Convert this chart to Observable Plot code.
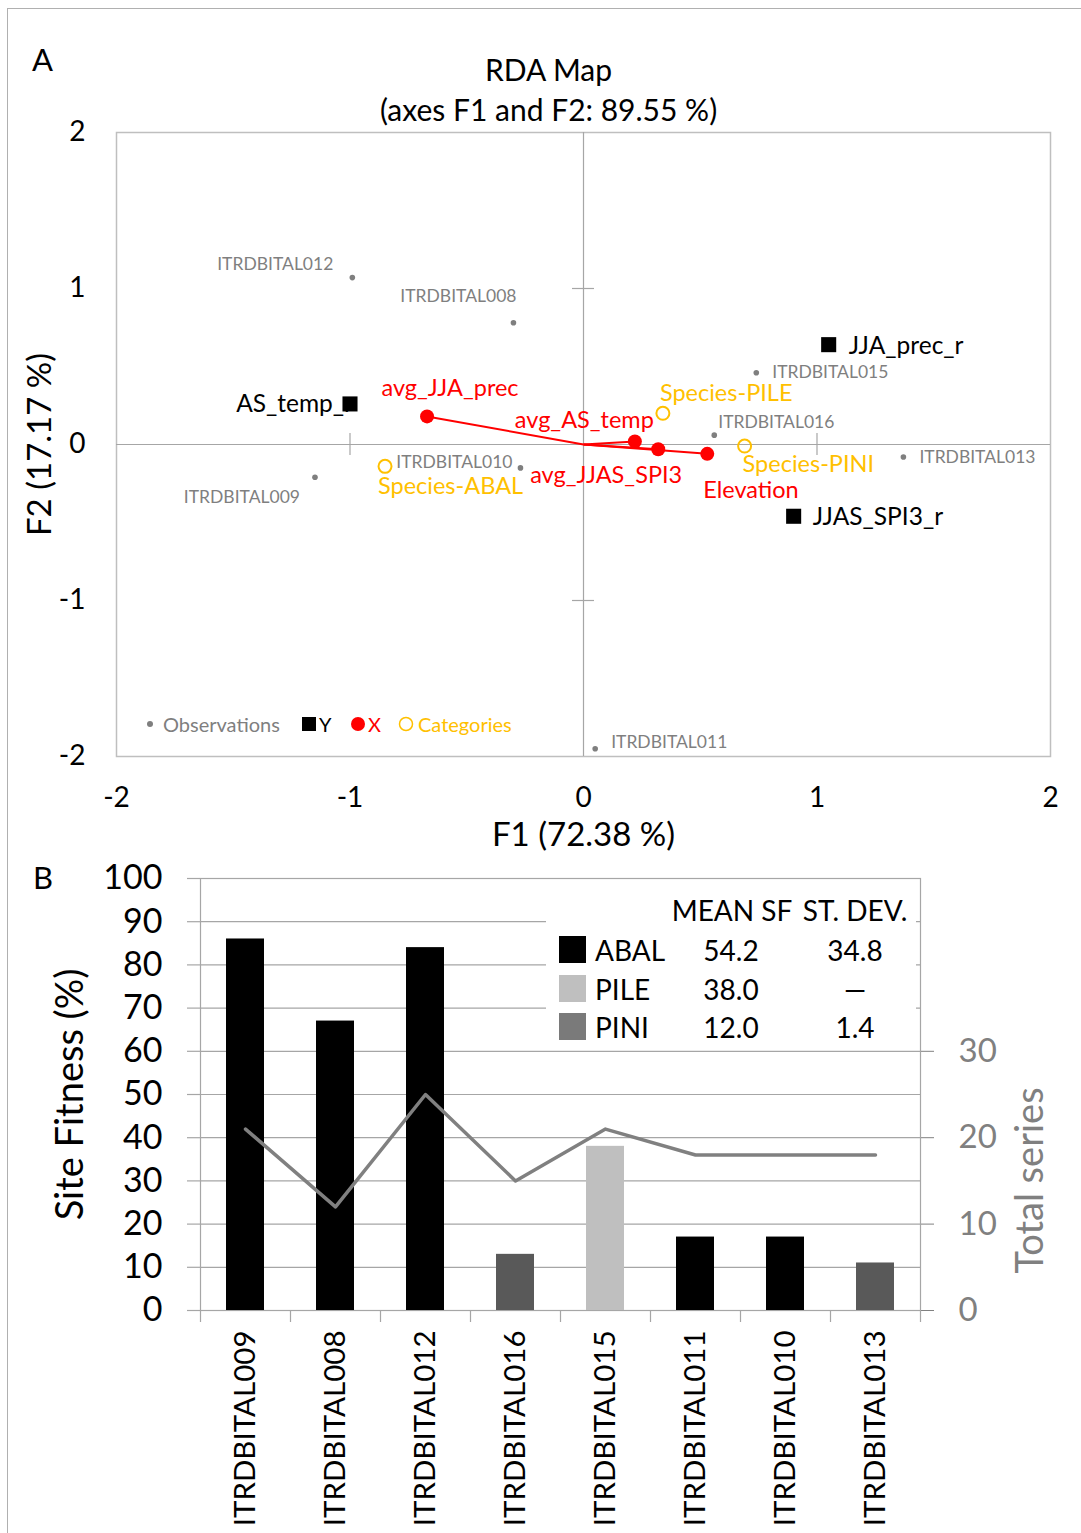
<!DOCTYPE html>
<html><head><meta charset="utf-8">
<script src="https://cdn.jsdelivr.net/npm/d3@7"></script>
<script src="https://cdn.jsdelivr.net/npm/@observablehq/plot@0.6"></script>
<style>
body{margin:0;background:#fff;font-family:Lato,sans-serif;}
#wrap{position:relative;width:1081px;height:1533px;overflow:hidden;background:#fff;}
#wrap svg{position:absolute;left:0;}
.abs{position:absolute;white-space:nowrap;line-height:1;}
</style></head><body><div id="wrap"></div>
<script>
// ---------- Panel A data (RDA map) ----------
const obsNames = ["ITRDBITAL012","ITRDBITAL008","ITRDBITAL015","ITRDBITAL016","ITRDBITAL013","ITRDBITAL010","ITRDBITAL009","ITRDBITAL011"];
const obsF1 = [-0.99,-0.30,0.74,0.56,1.37,-0.27,-1.15,0.05];
const obsF2 = [1.07,0.78,0.46,0.06,-0.08,-0.15,-0.21,-1.95];

const yNames = ["AS_temp_r","JJA_prec_r","JJAS_SPI3_r"];
const yF1 = [-1.00,1.05,0.90];
const yF2 = [0.26,0.64,-0.46];

const xNames = ["avg_JJA_prec","avg_AS_temp","avg_JJAS_SPI3","Elevation"];
const xF1 = [-0.67,0.22,0.32,0.53];
const xF2 = [0.18,0.02,-0.03,-0.06];

const catNames = ["Species-PILE","Species-PINI","Species-ABAL"];
const catF1 = [0.34,0.69,-0.85];
const catF2 = [0.20,-0.01,-0.14];

const axisTicksA = [-2,-1,0,1,2];

// ---------- Panel B data (site fitness) ----------
const sites = ["ITRDBITAL009","ITRDBITAL008","ITRDBITAL012","ITRDBITAL016","ITRDBITAL015","ITRDBITAL011","ITRDBITAL010","ITRDBITAL013"];
const siteSpecies = ["ABAL","ABAL","ABAL","PINI","PILE","ABAL","ABAL","PINI"];
const siteFitness = [86,67,84,13,38,17,17,11];
const totalSeries = [21,12,25,15,21,18,18,18];
const tableSpecies = ["ABAL","PILE","PINI"];
const tableMean = ["54.2","38.0","12.0"];
const tableSD = ["34.8","\u2014","1.4"];

// ---------- label layout (style only) ----------
const obsLab = [[-19,-13,"end"],[3,-26,"end"],[16,0,"start"],[4,-13,"start"],[16,0,"start"],[-8,-6,"end"],[-15,20,"end"],[16,-6,"start"]];
const yLab = [[3,0,"end"],[20,1,"start"],[19,1,"start"]];
const xLab = [[23,-28,"middle"],[19,-21,"end"],[24,26,"end"],[-4,37,"start"]];
const catLab = [[-3,-20,"start"],[-2,18,"start"],[-7,20,"start"]];

const RED = "#ff0000", GOLD = "#ffc000", OBS = "#7f7f7f", AXG = "#a6a6a6";
const wrap = document.getElementById("wrap");

const obs = obsNames.map((n,i)=>({name:n,f1:obsF1[i],f2:obsF2[i]}));
const ys = yNames.map((n,i)=>({name:n,f1:yF1[i],f2:yF2[i]}));
const xs = xNames.map((n,i)=>({name:n,f1:xF1[i],f2:xF2[i]}));
const cats = catNames.map((n,i)=>({name:n,f1:catF1[i],f2:catF2[i]}));

function labels(data, lay, color, size){
  return data.map((d,i)=>Plot.text([d],{x:"f1",y:"f2",text:"name",dx:lay[i][0],dy:lay[i][1],textAnchor:lay[i][2],fill:color,fontSize:size}));
}

const plotA = Plot.plot({
  width:1081, height:860,
  marginLeft:116, marginRight:31, marginTop:132, marginBottom:104,
  style:{fontFamily:"Lato, sans-serif", background:"transparent", overflow:"visible"},
  x:{domain:[-2,2]}, y:{domain:[-2,2]},
  marks:[
    Plot.frame({stroke:"#bfbfbf", strokeWidth:1.5}),
    Plot.ruleX([0],{stroke:AXG, strokeWidth:1.2}),
    Plot.ruleY([0],{stroke:AXG, strokeWidth:1.2}),
    Plot.ruleX([-1,1],{y1:-0.07,y2:0.07,stroke:AXG,strokeWidth:1.2}),
    Plot.ruleY([-1,1],{x1:-0.047,x2:0.047,stroke:AXG,strokeWidth:1.2}),
    Plot.axisX({ticks:axisTicksA, tickSize:0, tickPadding:31, fontSize:28, tickFormat:d=>String(d), label:null}),
    Plot.axisY({ticks:axisTicksA, tickSize:0, tickPadding:31, fontSize:28, tickFormat:d=>String(d), label:null}),
    Plot.text(["F1 (72.38 %)"],{frameAnchor:"bottom", lineAnchor:"middle", textAnchor:"middle", dy:79, fontSize:33}),
    Plot.text(["F2 (17.17 %)"],{frameAnchor:"left", lineAnchor:"middle", textAnchor:"middle", dx:-76, rotate:-90, fontSize:33}),
    Plot.text(["RDA Map"],{frameAnchor:"top", lineAnchor:"middle", dx:-35, dy:-61, fontSize:30}),
    Plot.text(["(axes F1 and F2: 89.55 %)"],{frameAnchor:"top", lineAnchor:"middle", dx:-35, dy:-21, fontSize:30}),
    // observations
    Plot.dot(obs,{x:"f1",y:"f2",r:2.8,fill:OBS}),
    ...labels(obs, obsLab, OBS, 17.5),
    // Y variables
    ...labels(ys, yLab, "black", 24.5),
    Plot.dot(ys,{x:"f1",y:"f2",symbol:"square",r:8.5,fill:"black"}),
    // X variables
    Plot.link(xs,{x1:0,y1:0,x2:"f1",y2:"f2",stroke:RED,strokeWidth:2}),
    Plot.dot(xs,{x:"f1",y:"f2",r:7,fill:RED}),
    ...labels(xs, xLab, RED, 23.5),
    // categories
    Plot.dot(cats,{x:"f1",y:"f2",r:6.5,fill:"none",stroke:GOLD,strokeWidth:2}),
    ...labels(cats, catLab, GOLD, 23.5)
  ]
});
plotA.style.top = "0px";
wrap.appendChild(plotA);

// ---------- Panel B ----------
const rows = sites.map((s,i)=>({site:s, species:siteSpecies[i], sf:siteFitness[i], total:totalSeries[i]}));
const half = 45;
const plotB = Plot.plot({
  width:1081, height:673,
  marginLeft:200, marginRight:161, marginTop:18, marginBottom:223,
  style:{fontFamily:"Lato, sans-serif", background:"transparent", overflow:"visible"},
  x:{domain:sites, padding:0},
  y:{domain:[0,100]},
  color:{domain:tableSpecies, range:["#000000","#bfbfbf","#595959"]},
  marks:[
    Plot.gridY(d3.range(0,101,10),{stroke:AXG, strokeOpacity:1, strokeWidth:1.2}),
    Plot.frame({stroke:AXG, strokeWidth:1.2}),
    Plot.axisY({ticks:d3.range(0,101,10), tickSize:13, text:null, stroke:AXG, strokeWidth:1.2, label:null}),
    Plot.axisY({ticks:d3.range(0,101,10), tickSize:0, tickPadding:38, fontSize:34, label:null}),
    Plot.axisY({anchor:"right", ticks:[0,20,40,60], tickSize:13, tickPadding:25, tickFormat:d=>String(d/2), fontSize:33, color:"#808080", label:null}),
    Plot.axisX({tickSize:12, text:null, dx:-half, stroke:AXG, strokeWidth:1.2, label:null}),
    Plot.axisX({ticks:[sites[sites.length-1]], tickSize:12, text:null, dx:half, stroke:AXG, strokeWidth:1.2, label:null}),
    Plot.axisX({tickSize:0, tickPadding:20, tickRotate:-90, fontSize:29.5, label:null}),
    Plot.barY(rows,{x:"site", y:"sf", fill:"species", insetLeft:26, insetRight:26}),
    Plot.line(rows,{x:"site", y:d=>d.total*2, stroke:"#808080", strokeWidth:3.5}),
    Plot.text(["Site Fitness (%)"],{frameAnchor:"left", lineAnchor:"middle", textAnchor:"middle", dx:-130, rotate:-90, fontSize:38}),
    Plot.text(["Total series"],{frameAnchor:"right", lineAnchor:"middle", textAnchor:"middle", dx:110, dy:86, rotate:-90, fontSize:38, fill:"#808080"})
  ]
});
plotB.style.top = "860px";
wrap.appendChild(plotB);

// ---------- overlays: borders, panel letters, legends ----------
function div(css, html){ const e=document.createElement("div"); e.className="abs"; e.style.cssText=css; if(html!=null) e.innerHTML=html; wrap.appendChild(e); return e; }
div("left:7px;top:8px;width:1074px;height:0;border-top:1.5px solid #b0b0b0;");
div("left:7px;top:8px;width:0;height:1525px;border-left:1.5px solid #b0b0b0;");
div("left:32px;top:44px;font-size:31px;", "A");
div("left:33px;top:862px;font-size:31px;", "B");

// legend panel A
const lg = div("left:140px;top:710px;width:400px;height:30px;");
lg.innerHTML = `<svg width="400" height="30" style="position:absolute;left:0;top:0;overflow:visible">
  <circle cx="10" cy="14" r="3" fill="${OBS}"/>
  <text x="23" y="14" dominant-baseline="central" font-size="20" fill="${OBS}" font-family="Lato">Observations</text>
  <rect x="162" y="7" width="14" height="14" fill="black"/>
  <text x="179" y="14" dominant-baseline="central" font-size="20" fill="black" font-family="Lato">Y</text>
  <circle cx="218" cy="14" r="7" fill="${RED}"/>
  <text x="228" y="14" dominant-baseline="central" font-size="20" fill="${RED}" font-family="Lato">X</text>
  <circle cx="266" cy="14" r="6.5" fill="none" stroke="${GOLD}" stroke-width="1.5"/>
  <text x="278" y="14" dominant-baseline="central" font-size="20" fill="${GOLD}" font-family="Lato">Categories</text>
</svg>`;

// table legend panel B
div("left:546px;top:884px;width:370px;height:162px;background:#fff;");
div("left:732px;top:910px;font-size:28px;transform:translate(-50%,-50%);", "MEAN SF");
div("left:855px;top:910px;font-size:28px;transform:translate(-50%,-50%);", "ST. DEV.");
const swatch = {"ABAL":"#000000","PILE":"#bfbfbf","PINI":"#7a7a7a"};
const rowY = [950,989,1027];
tableSpecies.forEach((s,i)=>{
  div(`left:559px;top:${rowY[i]-14}px;width:27px;height:27px;background:${swatch[s]};`);
  div(`left:595px;top:${rowY[i]}px;font-size:28px;transform:translateY(-50%);`, s);
  div(`left:731px;top:${rowY[i]}px;font-size:28px;transform:translate(-50%,-50%);`, tableMean[i]);
  div(`left:855px;top:${rowY[i]}px;font-size:28px;transform:translate(-50%,-50%);`, tableSD[i]);
});
</script></body></html>
